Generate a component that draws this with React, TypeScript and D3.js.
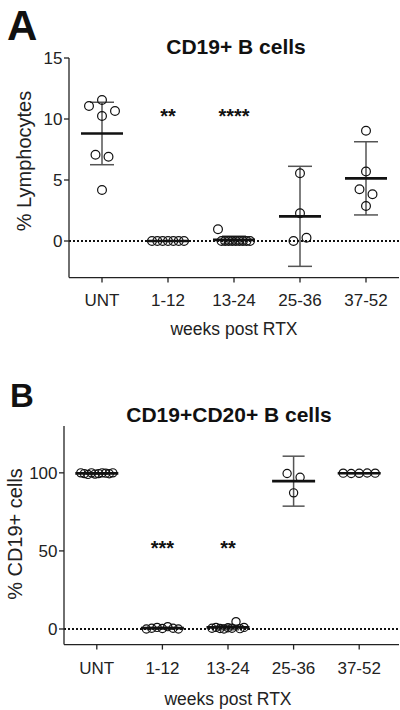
import React from "react";
import * as d3 from "d3";

// ---------- data ----------
const categories = ["UNT", "1-12", "13-24", "25-36", "37-52"];
const xTitle = "weeks post RTX";

const letterA = "A";
const titleA = "CD19+ B cells";
const yLabelA = "% Lymphocytes";
const yTicksA = [0, 5, 10, 15];
const yDomainA = [-3, 15];
const valuesA = [
  [11.07, 11.56, 10.66, 10.25, 7.07, 6.9, 4.18],
  [0, 0, 0, 0, 0, 0, 0],
  [0.96, 0, 0, 0, 0, 0, 0, 0, 0, 0],
  [5.55, 2.27, 0, 0.27],
  [9.04, 5.7, 4.24, 3.83, 2.87],
];
const errA = [2.56, 0, 0.3, 4.1, 3.0];
const starsA = ["", "**", "****", "", ""];

const letterB = "B";
const titleB = "CD19+CD20+ B cells";
const yLabelB = "% CD19+ cells";
const yTicksB = [0, 50, 100];
const yDomainB = [-10, 130];
const valuesB = [
  [100, 99.5, 99, 100, 99.2, 99.5, 100, 99.8, 99.4, 100],
  [0, 0.5, 1, 0.3, 1.5, 0.5, 0],
  [0.5, 1, 0.3, 0, 0.8, 0.5, 4.7, 0.2, 1.0],
  [99.6, 97.2, 87.2],
  [99.8, 99.6, 99.7, 99.9, 99.8],
];
const errB = [0.4, 0.5, 1.5, 16.0, 0.2];
const starsB = ["", "***", "**", "", ""];

// ---------- layout ----------
const FONT = "'Liberation Sans', Arial, Helvetica, sans-serif";

const cfgA = {
  left: 69, right: 399, top: 58, bottom: 277.6, axisEnd: 399,
  r: 4.4, meanHalf: 21, capHalf: 12,
  starLevel: 10.55, tickLabelDy: 28.5, xTitleDy: 57.5,
  yLabelX: 31, yLabelY: 161, titleX: 236, titleY: 54,
  letterX: 7, letterY: 40, letterSize: 42,
};
const cfgB = {
  left: 64, right: 392, top: 426, bottom: 644.6, axisEnd: 399,
  r: 4.1, meanHalf: 21.5, capHalf: 11,
  starLevel: 54.6, tickLabelDy: 29.5, xTitleDy: 60,
  yLabelX: 22, yLabelY: 534, titleX: 229, titleY: 421.5,
  letterX: 10, letterY: 406.5, letterSize: 33,
};

function rowOffsets(vals: number[], y: (v: number) => number, sMax: number, width: number, thresh: number) {
  const idx = vals.map((_, i) => i).sort((a, b) => vals[b] - vals[a]);
  const rows: number[][] = [];
  let cur: number[] | null = null;
  for (const i of idx) {
    if (cur && Math.abs(y(vals[i]) - y(vals[cur[0]])) <= thresh) cur.push(i);
    else {
      cur = [i];
      rows.push(cur);
    }
  }
  const off = new Array(vals.length).fill(0);
  rows.forEach((r) => {
    r.sort((a, b) => a - b);
    const n = r.length;
    const s = n > 1 ? Math.min(sMax, width / (n - 1)) : 0;
    r.forEach((i, k) => (off[i] = (k - (n - 1) / 2) * s));
  });
  return off;
}

function Panel({ cfg, values, err, stars, ticks, domain, title, yLabel, letter }: any) {
  const x = d3.scaleBand().domain(categories).range([cfg.left, cfg.right]);
  const y = d3.scaleLinear().domain(domain).range([cfg.bottom, cfg.top]);
  const cx = (c: string) => (x(c) as number) + x.bandwidth() / 2;
  const axisColor = "#222";
  return (
    <g>
      <text x={cfg.letterX} y={cfg.letterY} fontFamily={FONT} fontWeight="bold" fontSize={cfg.letterSize} fill="#111">
        {letter}
      </text>
      <text x={cfg.titleX} y={cfg.titleY} textAnchor="middle" fontFamily={FONT} fontWeight="bold" fontSize={21} fill="#111">
        {title}
      </text>
      {/* zero reference line */}
      <line x1={cfg.left} x2={cfg.axisEnd} y1={y(0)} y2={y(0)} stroke="#111" strokeWidth={2} strokeDasharray="2,2" />
      {/* y axis */}
      <line x1={cfg.left} x2={cfg.left} y1={cfg.top} y2={cfg.bottom} stroke={axisColor} strokeWidth={1.3} />
      {ticks.map((t: number) => (
        <g key={t}>
          <line x1={cfg.left - 5} x2={cfg.left} y1={y(t)} y2={y(t)} stroke={axisColor} strokeWidth={1.3} />
          <text x={cfg.left - 6.5} y={y(t)} dy="0.35em" textAnchor="end" fontFamily={FONT} fontSize={17} fill="#222">
            {t}
          </text>
        </g>
      ))}
      <text
        transform={`translate(${cfg.yLabelX},${cfg.yLabelY}) rotate(-90)`}
        textAnchor="middle"
        fontFamily={FONT}
        fontSize={20}
        fill="#222"
      >
        {yLabel}
      </text>
      {/* x axis */}
      <line x1={cfg.left} x2={cfg.axisEnd} y1={cfg.bottom} y2={cfg.bottom} stroke={axisColor} strokeWidth={1.3} />
      {categories.map((c) => (
        <g key={c}>
          <line x1={cx(c)} x2={cx(c)} y1={cfg.bottom} y2={cfg.bottom + 5} stroke={axisColor} strokeWidth={1.3} />
          <text x={cx(c)} y={cfg.bottom + cfg.tickLabelDy} textAnchor="middle" fontFamily={FONT} fontSize={17} fill="#222">
            {c}
          </text>
        </g>
      ))}
      <text
        x={(cfg.left + cfg.right) / 2}
        y={cfg.bottom + cfg.xTitleDy}
        textAnchor="middle"
        fontFamily={FONT}
        fontSize={17.5}
        fill="#222"
      >
        {xTitle}
      </text>
      {/* groups */}
      {categories.map((c, gi) => {
        const vals: number[] = values[gi];
        const m = d3.mean(vals) as number;
        const e = err[gi];
        const off = rowOffsets(vals, y, 13, 32, 12);
        const X = cx(c);
        return (
          <g key={c}>
            {e > 0 && (
              <g stroke="#555" strokeWidth={1.5}>
                <line x1={X} x2={X} y1={y(m + e)} y2={y(m - e)} />
                <line x1={X - cfg.capHalf} x2={X + cfg.capHalf} y1={y(m + e)} y2={y(m + e)} />
                <line x1={X - cfg.capHalf} x2={X + cfg.capHalf} y1={y(m - e)} y2={y(m - e)} />
              </g>
            )}
            {vals.map((v, i) => (
              <circle key={i} cx={X + off[i]} cy={y(v)} r={cfg.r} fill="none" stroke="#111" strokeWidth={1.2} />
            ))}
            <line x1={X - cfg.meanHalf} x2={X + cfg.meanHalf} y1={y(m)} y2={y(m)} stroke="#111" strokeWidth={2.6} />
            {stars[gi] && (
              <text
                x={X}
                y={y(cfg.starLevel)}
                dy="0.55em"
                textAnchor="middle"
                fontFamily={FONT}
                fontWeight="bold"
                fontSize={20}
                fill="#111"
              >
                {stars[gi]}
              </text>
            )}
          </g>
        );
      })}
    </g>
  );
}

export default function App() {
  return (
    <svg
      width={400}
      height={710}
      viewBox="0 0 400 710"
      style={{ position: "absolute", left: 0, top: 0, background: "#fff" }}
    >
      <rect width={400} height={710} fill="#fff" />
      <Panel
        cfg={cfgA}
        values={valuesA}
        err={errA}
        stars={starsA}
        ticks={yTicksA}
        domain={yDomainA}
        title={titleA}
        yLabel={yLabelA}
        letter={letterA}
      />
      <Panel
        cfg={cfgB}
        values={valuesB}
        err={errB}
        stars={starsB}
        ticks={yTicksB}
        domain={yDomainB}
        title={titleB}
        yLabel={yLabelB}
        letter={letterB}
      />
    </svg>
  );
}
